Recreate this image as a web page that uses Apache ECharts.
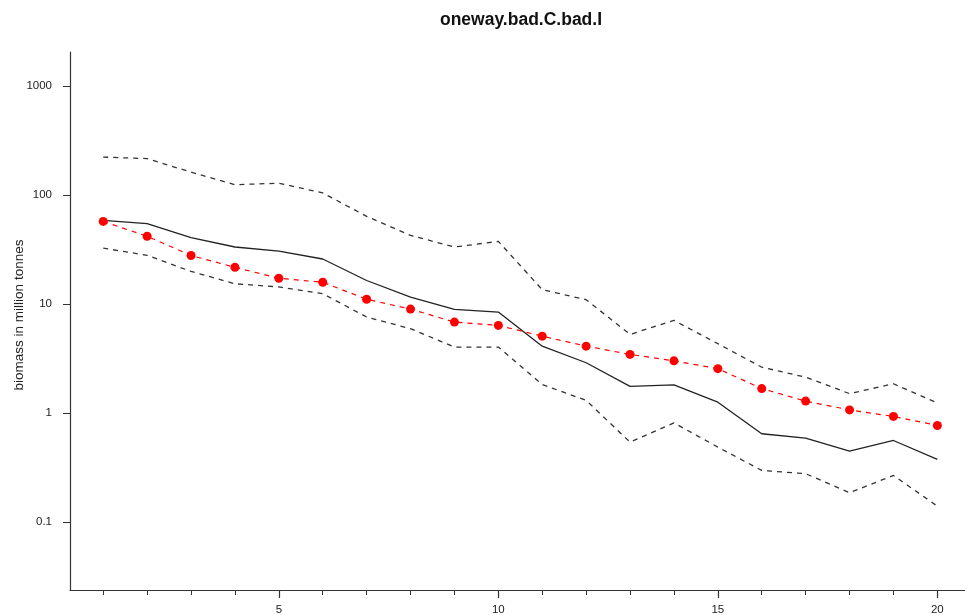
<!DOCTYPE html>
<html>
<head>
<meta charset="utf-8">
<title>oneway.bad.C.bad.I</title>
<script src="https://cdn.jsdelivr.net/npm/echarts@6/dist/echarts.min.js"></script>
<style>
  html, body { margin: 0; padding: 0; background: #fff; }
  #chart { width: 965px; height: 615px; }
</style>
</head>
<body>
<div id="chart"></div>
<script>
// Years of the projection
const years = [1, 2, 3, 4, 5, 6, 7, 8, 9, 10, 11, 12, 13, 14, 15, 16, 17, 18, 19, 20];

// Median of the simulated biomass (solid line)
const median = [58.8, 54.8, 40.8, 33.5, 30.7, 26.0, 16.5, 11.6, 8.96, 8.46,
                4.12, 2.90, 1.76, 1.82, 1.26, 0.647, 0.589, 0.448, 0.561, 0.376];
// Upper and lower bounds of the interval (dashed lines)
const upper = [224, 217, 163, 125, 129, 105, 64, 42.8, 33.5, 37.7,
               13.6, 11.0, 5.28, 7.10, 4.34, 2.64, 2.14, 1.51, 1.86, 1.24];
const lower = [32.7, 28.1, 20.0, 15.4, 14.4, 12.5, 7.62, 5.96, 4.04, 4.04,
               1.83, 1.31, 0.542, 0.813, 0.488, 0.298, 0.278, 0.186, 0.268, 0.140];
// Observed / reference trajectory (red dashed line with points)
const observed = [57.5, 42.0, 28.0, 21.8, 17.3, 15.9, 11.1, 9.02, 6.85, 6.39,
                  5.09, 4.12, 3.46, 3.02, 2.56, 1.68, 1.29, 1.07, 0.933, 0.771];

// Axis ticks and labels
const xTicks = years;
const xLabels = [5, 10, 15, 20];
const yTicks = [0.1, 1, 10, 100, 1000];

const pairs = arr => years.map((y, i) => [y, arr[i]]);

const axisColor = '#333';
const textColor = '#222';
const font = '"Liberation Sans", Arial, Helvetica, sans-serif';

const chart = echarts.init(document.getElementById('chart'), null, { renderer: 'canvas' });

chart.setOption({
  backgroundColor: '#ffffff',
  animation: false,
  title: {
    text: 'oneway.bad.C.bad.I',
    left: 516,
    textAlign: 'center',
    top: 6,
    textStyle: { fontFamily: font, fontWeight: 'bold', fontSize: 17.5, color: '#111' }
  },
  grid: {
    left: 70, right: 0, top: 52, bottom: 25,
    containLabel: false,
    outerBoundsMode: 'none'
  },
  xAxis: [
    {
      type: 'value',
      min: 0.243,
      max: 20.63,
      axisLine: { show: true, lineStyle: { color: axisColor, width: 1.2 } },
      axisTick: { show: true, length: 5, lineStyle: { color: axisColor, width: 1 }, customValues: xTicks },
      axisLabel: { show: false },
      splitLine: { show: false }
    },
    {
      type: 'value',
      position: 'bottom',
      min: 0.243,
      max: 20.63,
      axisLine: { show: false },
      axisTick: { show: true, length: 8, lineStyle: { color: axisColor, width: 1.2 }, customValues: xLabels },
      axisLabel: {
        show: true, customValues: xLabels, margin: 14,
        fontFamily: font, fontSize: 11.5, color: textColor
      },
      splitLine: { show: false }
    }
  ],
  yAxis: {
    type: 'log',
    logBase: 10,
    min: 0.0238,
    max: 2065,
    name: 'biomass in million tonnes',
    nameLocation: 'middle',
    nameGap: 44,
    nameRotate: 90,
    nameMoveOverlap: false,
    nameTextStyle: { fontFamily: font, fontSize: 13.5, color: textColor, padding: [0, 0, 0, 12] },
    axisLine: { show: true, lineStyle: { color: axisColor, width: 1.2 } },
    axisTick: { show: true, length: 7, lineStyle: { color: axisColor, width: 1 }, customValues: yTicks },
    axisLabel: {
      show: true, customValues: yTicks, margin: 18,
      fontFamily: font, fontSize: 11.5, color: textColor,
      formatter: v => String(v)
    },
    splitLine: { show: false }
  },
  series: [
    {
      name: 'upper',
      type: 'line',
      data: pairs(upper),
      showSymbol: false,
      symbol: 'none',
      lineStyle: { color: '#333', width: 1.3, type: [5, 5] },
      z: 2
    },
    {
      name: 'lower',
      type: 'line',
      data: pairs(lower),
      showSymbol: false,
      symbol: 'none',
      lineStyle: { color: '#333', width: 1.3, type: [5, 5] },
      z: 2
    },
    {
      name: 'median',
      type: 'line',
      data: pairs(median),
      showSymbol: false,
      symbol: 'none',
      lineStyle: { color: '#222', width: 1.3, type: 'solid' },
      z: 3
    },
    {
      name: 'observed',
      type: 'line',
      data: pairs(observed),
      symbol: 'circle',
      symbolSize: 9,
      showSymbol: true,
      itemStyle: { color: '#ff0000', borderWidth: 0 },
      lineStyle: { color: '#ff0000', width: 1.2, type: [5, 5] },
      z: 4
    }
  ]
});
</script>
</body>
</html>
